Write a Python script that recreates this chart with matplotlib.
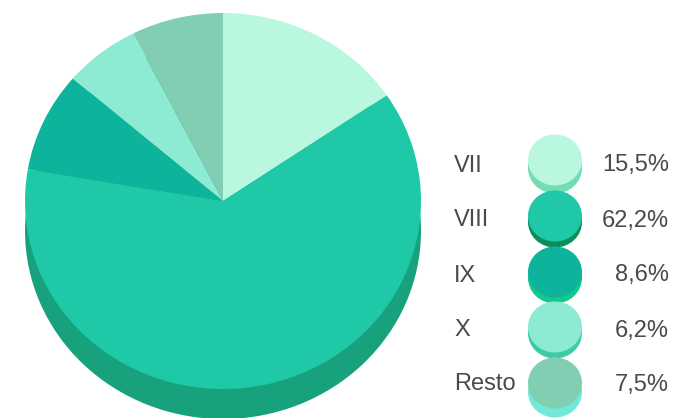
import matplotlib
matplotlib.use("Agg")
import matplotlib.pyplot as plt
from matplotlib.patches import Ellipse

W, H = 677, 418
categories = ["VII", "VIII", "IX", "X", "Resto"]
values = [15.5, 62.2, 8.6, 6.2, 7.5]
value_labels = ["15,5%", "62,2%", "8,6%", "6,2%", "7,5%"]
face_colors = ["#B9F8DF", "#1FC8A7", "#0DB49B", "#8DEBD4", "#82CEB2"]
side_colors = ["#72DDB2", "#0B8F5A", "#10C98C", "#3CCBA5", "#72E8D8"]
pie_side_color = "#17A27D"

plt.rcParams["font.family"] = ["Liberation Sans", "DejaVu Sans"]
fig = plt.figure(figsize=(W / 100, H / 100), dpi=100, facecolor="white")


def box_axes(left, top, right, bottom):
    ax = fig.add_axes([left / W, 1 - bottom / H, (right - left) / W, (bottom - top) / H])
    ax.axis("off")
    return ax


# Extruded side of the pie, then the top face
side = box_axes(25, 43, 421, 419)
side.pie([sum(values)], colors=[pie_side_color], radius=1)
side.set_aspect("auto")
side.set_xlim(-1, 1)
side.set_ylim(-1, 1)

face = box_axes(25, 13, 421, 389)
face.pie(values, colors=face_colors, startangle=90, counterclock=False, radius=1)
face.set_aspect("auto")
face.set_xlim(-1, 1)
face.set_ylim(-1, 1)

# Legend, in pixel coordinates of the figure
leg = fig.add_axes([0, 0, 1, 1])
leg.set_xlim(0, W)
leg.set_ylim(H, 0)
leg.axis("off")

row_y = [160, 216, 272, 327, 383]
text_y = [163, 218, 273, 328, 382]
depth = [8, 6, 6, 6, 9]
for i, cat in enumerate(categories):
    y = row_y[i]
    leg.add_patch(Ellipse((555, y + depth[i]), 54, 51, fc=side_colors[i], ec="none", zorder=2 + i * 2))
    leg.add_patch(Ellipse((555, y), 54, 51, fc=face_colors[i], ec="none", zorder=3 + i * 2))
    leg.text(454, text_y[i], cat, ha="left", va="center_baseline", fontsize=17, color="#4A4A4A", zorder=20)
    leg.text(669, text_y[i], value_labels[i], ha="right", va="center_baseline", fontsize=17, color="#4A4A4A", zorder=20)

fig.savefig("out.png", dpi=100, facecolor="white")
